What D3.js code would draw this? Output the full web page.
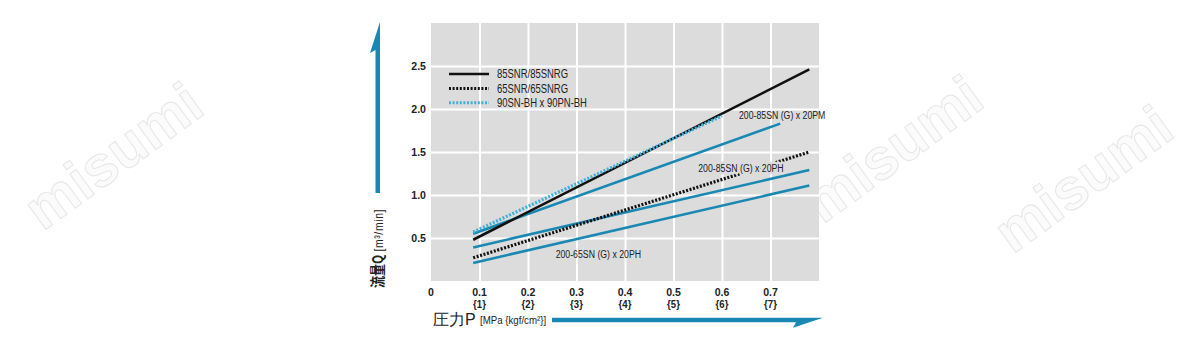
<!DOCTYPE html>
<html>
<head>
<meta charset="utf-8">
<script src="https://cdn.jsdelivr.net/npm/d3@7"></script>
<style>
  html, body { margin: 0; padding: 0; background: #ffffff; }
  svg { display: block; }
  text { font-family: "Liberation Sans", Arial, sans-serif; }
</style>
</head>
<body>
<svg id="chart" width="1198" height="350"></svg>
<script>
// ---------------- data ----------------
const xTicks = [0, 0.1, 0.2, 0.3, 0.4, 0.5, 0.6, 0.7];
const xTickLabels = ["0", "0.1", "0.2", "0.3", "0.4", "0.5", "0.6", "0.7"];
const xTickSubLabels = ["", "{1}", "{2}", "{3}", "{4}", "{5}", "{6}", "{7}"];
const yTicks = [0.5, 1.0, 1.5, 2.0, 2.5];
const yTickLabels = ["0.5", "1.0", "1.5", "2.0", "2.5"];

const legendNames = ["85SNR/85SNRG", "65SNR/65SNRG", "90SN-BH x 90PN-BH"];

// each line: [pressure MPa, flow m3/min]
const s85SNR = [[0.087, 0.48], [0.78, 2.46]];
const s65SNR = [[0.087, 0.27], [0.78, 1.50]];
const s90SNBH = [[0.087, 0.57], [0.60, 1.92]];
const s85_20PM = [[0.087, 0.55], [0.72, 1.83]];
const s85_20PH = [[0.087, 0.39], [0.78, 1.29]];
const s65_20PH = [[0.087, 0.21], [0.78, 1.11]];

const annotNames = ["200-85SN (G) x 20PM", "200-85SN (G) x 20PH", "200-65SN (G) x 20PH"];
const annotAt = [[0.635, 1.88], [0.551, 1.265], [0.257, 0.27]];

// ---------------- layout ----------------
const svg = d3.select("#chart");
const BLUE = "#1a88b2";
const LBLUE = "#3fb0d8";
const INK = "#222";
const PLOTBG = "#dcdcdc";

const x = d3.scaleLinear().domain([0, 0.8]).range([431, 819]);
const y = d3.scaleLinear().domain([0, 3]).range([281, 23]);

// helper: horizontally condensed text
function ctext(parent, px, py, str, opts) {
  const g = parent.append("g").attr("transform", `translate(${px},${py}) scale(${opts.sx || 1},1)`);
  const t = g.append("text")
    .attr("text-anchor", opts.anchor || "start")
    .attr("font-size", opts.size || 12)
    .attr("font-weight", opts.weight || "normal")
    .attr("fill", opts.fill || INK)
    .text(str);
  if (opts.ls) t.attr("letter-spacing", opts.ls);
  if (opts.halo) t.attr("stroke", opts.halo).attr("stroke-width", 5).attr("stroke-linejoin", "round").attr("paint-order", "stroke");
  return t;
}

// watermark (faint, behind)
const wm = svg.append("g").attr("pointer-events", "none");
[[125, 172], [905, 165], [1095, 195]].forEach(p => {
  wm.append("text")
    .attr("transform", `translate(${p[0]},${p[1]}) rotate(-36)`)
    .attr("text-anchor", "middle")
    .attr("font-weight", "bold")
    .attr("font-size", 58)
    .attr("fill", "#fbfbfb")
    .attr("stroke", "#e8e8e8")
    .attr("stroke-width", 1.1)
    .text("misumi");
});

// plot background
svg.append("rect")
  .attr("x", x(0)).attr("y", y(3))
  .attr("width", x(0.8) - x(0)).attr("height", y(0) - y(3))
  .attr("fill", PLOTBG);

// grid via axes
const gx = svg.append("g")
  .attr("transform", `translate(0,${y(0)})`)
  .call(d3.axisBottom(x).tickValues(xTicks.filter(d => d > 0)).tickSize(-(y(0) - y(3))).tickFormat(""));
gx.select(".domain").remove();
gx.selectAll("line").attr("stroke", "#ffffff").attr("stroke-width", 2);

const gy = svg.append("g")
  .attr("transform", `translate(${x(0)},0)`)
  .call(d3.axisLeft(y).tickValues(yTicks).tickSize(-(x(0.8) - x(0))).tickFormat(""));
gy.select(".domain").remove();
gy.selectAll("line").attr("stroke", "#ffffff").attr("stroke-width", 2);

// tick labels
const tl = svg.append("g");
yTicks.forEach((d, i) => ctext(tl, 426, y(d) + 4, yTickLabels[i], { anchor: "end", size: 11.5, weight: "bold", sx: 0.92 }));
xTicks.forEach((d, i) => {
  ctext(tl, x(d), 295.5, xTickLabels[i], { anchor: "middle", size: 11.5, weight: "bold", sx: 0.92 });
  if (xTickSubLabels[i]) ctext(tl, x(d), 307.5, xTickSubLabels[i], { anchor: "middle", size: 11, weight: "bold", sx: 0.87 });
});

// lines
const line = d3.line().x(d => x(d[0])).y(d => y(d[1]));
const lines = [
  { data: s65_20PH, stroke: BLUE, w: 2.6, dash: null },
  { data: s85_20PH, stroke: BLUE, w: 2.6, dash: null },
  { data: s85_20PM, stroke: BLUE, w: 2.6, dash: null },
  { data: s65SNR, stroke: "#111", w: 3.2, dash: "2,1.6" },
  { data: s85SNR, stroke: "#111", w: 2.6, dash: null },
  { data: s90SNBH, stroke: LBLUE, w: 3.2, dash: "2,1.6" }
];
svg.append("g").selectAll("path").data(lines).join("path")
  .attr("d", d => line(d.data))
  .attr("fill", "none")
  .attr("stroke", d => d.stroke)
  .attr("stroke-width", d => d.w)
  .attr("stroke-dasharray", d => d.dash);

// annotations (the middle one knocks out the dotted line behind it, as in the original)
const an = svg.append("g");
annotNames.forEach((n, i) => ctext(an, x(annotAt[i][0]), y(annotAt[i][1]), n,
  { size: 11.5, sx: 0.76, halo: i === 1 ? PLOTBG : null }));

// legend
const legStyles = [
  { stroke: "#111", w: 2.6, dash: null },
  { stroke: "#111", w: 3, dash: "2,1.6" },
  { stroke: LBLUE, w: 3, dash: "2,1.6" }
];
const leg = svg.append("g");
legendNames.forEach((n, i) => {
  const yy = 74 + i * 14.4;
  leg.append("line").attr("x1", 449).attr("x2", 489).attr("y1", yy).attr("y2", yy)
    .attr("stroke", legStyles[i].stroke).attr("stroke-width", legStyles[i].w)
    .attr("stroke-dasharray", legStyles[i].dash);
  ctext(leg, 497, yy + 4.3, n, { size: 12, sx: 0.79 });
});

// y-axis title + arrow
svg.append("path")
  .attr("d", "M380,22 L380,193 L375.5,193 L375.5,50 L370,53 Z")
  .attr("fill", BLUE);
const ytg = svg.append("g").attr("transform", "translate(382.5,288) rotate(-90) scale(0.8,1)");
const yt = ytg.append("text").attr("fill", INK);
yt.append("tspan").attr("font-family", "Noto Sans CJK JP, sans-serif").attr("font-size", 15).attr("font-weight", "bold").text("流量Q");
yt.append("tspan").attr("font-size", 13).attr("dx", 4).attr("letter-spacing", 0.8).text("[m³/min]");

// x-axis title + arrow
svg.append("text").attr("x", 433).attr("y", 325).attr("fill", INK)
  .attr("font-family", "Noto Sans CJK JP, sans-serif").attr("font-size", 16).text("圧力P");
ctext(svg, 480, 324, "[MPa {kgf/cm²}]", { size: 11, sx: 0.88 });
svg.append("path")
  .attr("d", "M552,317.7 L823,317.7 L793,327.7 L796,322.2 L552,322.2 Z")
  .attr("fill", BLUE);
</script>
</body>
</html>
